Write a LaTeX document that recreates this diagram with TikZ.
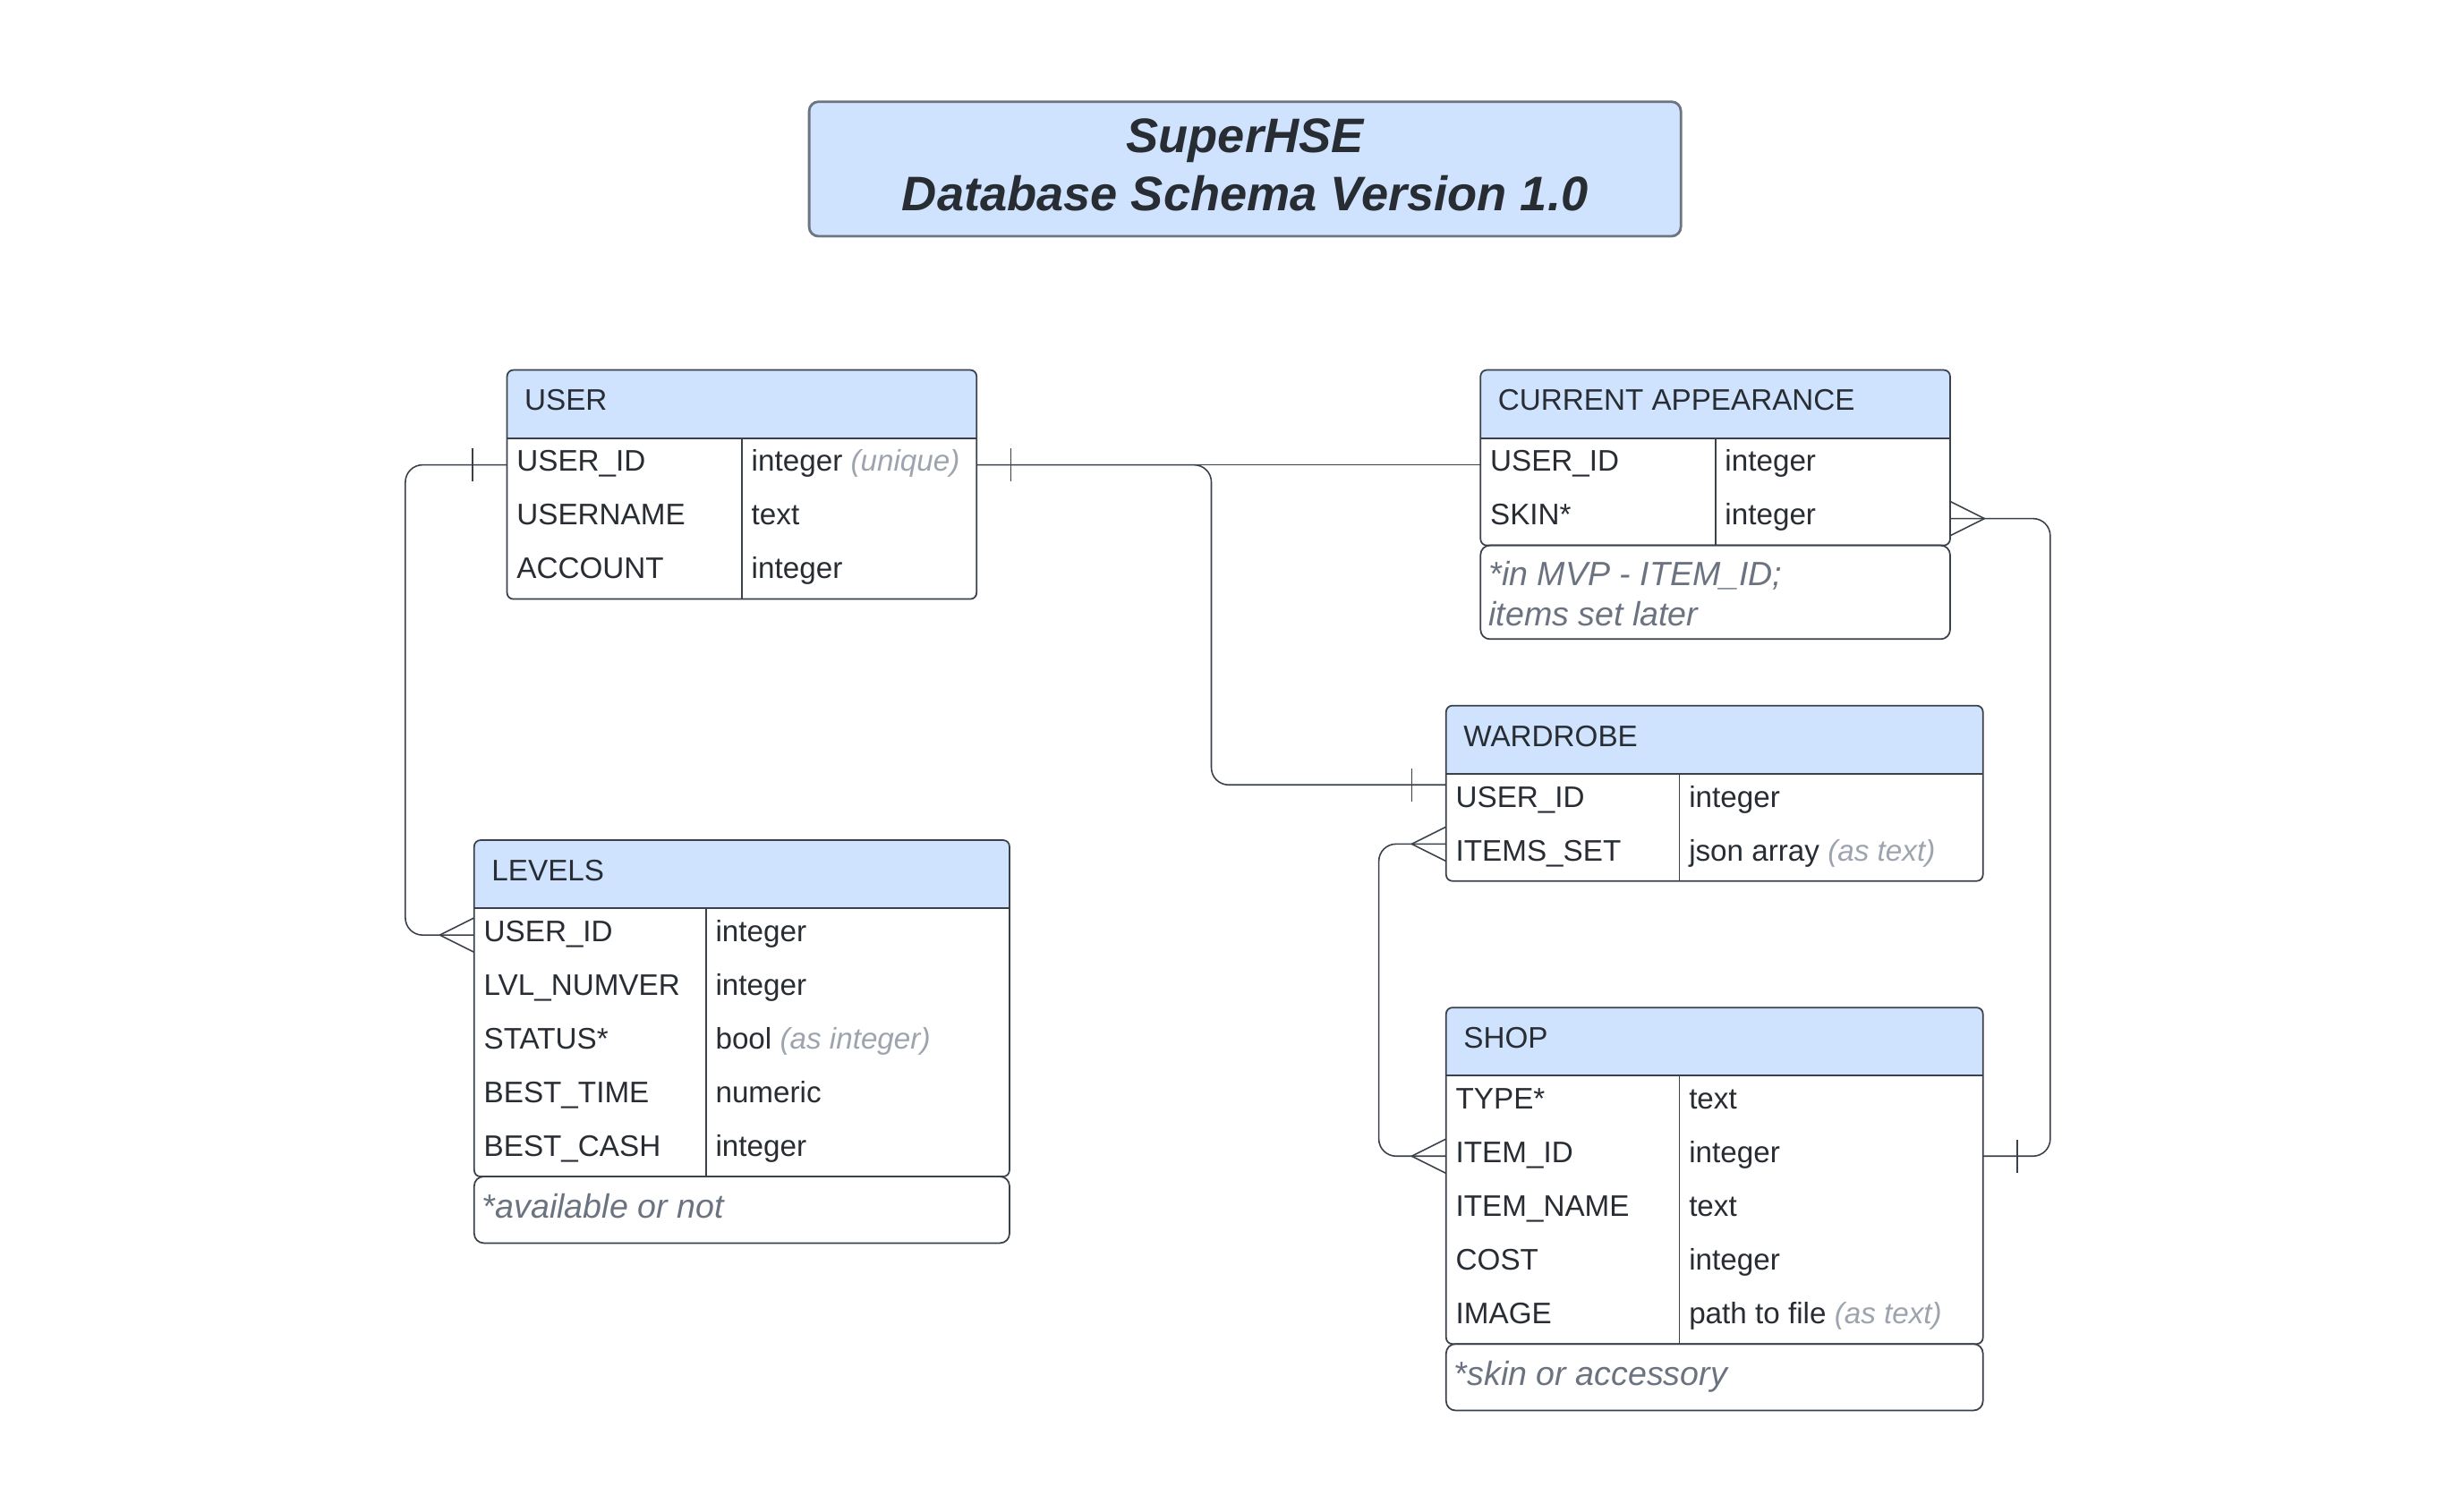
\documentclass[tikz,border=0pt]{standalone}
\usepackage{fontspec}
\setmainfont{Liberation Sans}
\usetikzlibrary{calc}

\definecolor{hdrblue}{HTML}{CFE3FF}
\definecolor{inkdark}{HTML}{282C33}
\definecolor{edgegray}{HTML}{3A414A}
\definecolor{titleedge}{HTML}{6C7480}
\definecolor{hintgray}{HTML}{9DA4AE}
\definecolor{notegray}{HTML}{6B7380}

\newcommand{\rowfont}{\fontsize{19}{26}\selectfont}
\newcommand{\notefont}{\fontsize{21.5}{26}\selectfont}
\newcommand{\hintnote}[1]{{\itshape\color{hintgray}#1}}

\tikzset{
  tableline/.style={draw=edgegray, line width=1pt},
  relline/.style={draw=edgegray, line width=0.9pt, rounded corners=11pt}
}

% table: name, x, y, width, divider, rows
\newcommand{\entityBox}[6]{%
  \begin{scope}[shift={(#2,#3)}]
    \fill[hdrblue, rounded corners=4pt] (0,0) rectangle (#4,43.5);
    \fill[hdrblue] (0,20) rectangle (#4,43.5);
    \node[tableline, rounded corners=4pt, anchor=north west, inner sep=0pt, outer sep=0pt,
          minimum width=#4, minimum height={43.5+#6*34.3}] (#1) at (0,0) {};
    \draw[tableline] (0,43.5) -- (#4,43.5);
    \draw[tableline] (#5,43.5) -- (#5,{43.5+#6*34.3});
  \end{scope}%
}
\newcommand{\crowfoot}[2]{%
  \begin{scope}[shift={(#1)}]
    \draw[relline] (#2*22,0) -- (0,-11);
    \draw[relline] (#2*22,0) -- (0,11);
  \end{scope}%
}
\newcommand{\onebar}[2]{%
  \begin{scope}[shift={(#1)}]
    \draw[relline] (#2*22,-10.5) -- (#2*22,10.5);
  \end{scope}%
}

\begin{document}
\begin{tikzpicture}[x=1pt,y=-1pt]

  % --- styles ---
  \tikzset{
    headtext/.style={anchor=west, inner sep=0pt, text height=14pt, text depth=5.6pt,
                     font=\rowfont, text=inkdark},
    fieldtext/.style={headtext},
    notetext/.style={anchor=base west, inner sep=0pt, font=\notefont\itshape, text=notegray},
    notebox/.style={draw=edgegray, line width=1pt, rounded corners=6pt, anchor=north west,
                    inner sep=0pt, outer sep=0pt},
    titlebox/.style={draw=titleedge, line width=1.6pt, fill=hdrblue, rounded corners=6pt,
                     minimum width=557, minimum height=86, inner sep=0pt},
    titletext/.style={inner sep=0pt, align=center,
                      font=\fontsize{31}{37}\selectfont\bfseries\itshape, text=inkdark},
  }

  \useasboundingbox (0,0) rectangle (1568,966);

  % =========================
  %  TITLE
  % =========================

  \node[titlebox] (title) at (795.5,108) {};
  \node[titletext] (titleText) at ($(title.center)+(0,-2.4)$) {SuperHSE\\Database Schema Version 1.0};

  % =========================
  %  TABLES
  % =========================

    \entityBox{user}{324}{236.5}{300}{150}{3}
    \entityBox{curapp}{946}{236.5}{300}{150}{2}
    \entityBox{wardrobe}{924}{451}{343}{149}{2}
    \entityBox{levels}{303}{537}{342}{148}{5}
    \entityBox{shop}{924}{644}{343}{149}{5}

    \node[notebox, minimum width=300, minimum height=59.9] (curappNote) at (946,348.6) {};
    \node[notebox, minimum width=342, minimum height=42.5] (levelsNote) at (303,752) {};
    \node[notebox, minimum width=343, minimum height=42.5] (shopNote) at (924,859) {};

\begin{scope}[shift={(user.north west)}]
  \node[headtext]  (userHead)     at (11,21.75)  {USER};
  \node[fieldtext] (userID)       at (6,60.65)   {USER\_ID};
  \node[fieldtext] (userIDType)   at (156,60.65) {integer \hintnote{(unique)}};
  \node[fieldtext] (userName)     at (6,94.95)   {USERNAME};
  \node[fieldtext] (userNameType) at (156,94.95) {text};
  \node[fieldtext] (userAcct)     at (6,129.25)  {ACCOUNT};
  \node[fieldtext] (userAcctType) at (156,129.25) {integer};
\end{scope}

\begin{scope}[shift={(curapp.north west)}]
  \node[headtext]  (curappHead)     at (11,21.75)  {CURRENT APPEARANCE};
  \node[fieldtext] (curappID)       at (6,60.65)   {USER\_ID};
  \node[fieldtext] (curappIDType)   at (156,60.65) {integer};
  \node[fieldtext] (curappSkin)     at (6,94.95)   {SKIN*};
  \node[fieldtext] (curappSkinType) at (156,94.95) {integer};
\end{scope}
  \node[notetext, anchor=north west, align=left]
    (curappNoteText) at (951,358.4) {*in MVP - ITEM\_ID;\\items set later};

\begin{scope}[shift={(wardrobe.north west)}]
  \node[headtext]  (wardHead)      at (11,21.75)  {WARDROBE};
  \node[fieldtext] (wardID)        at (6,60.65)   {USER\_ID};
  \node[fieldtext] (wardIDType)    at (155,60.65) {integer};
  \node[fieldtext] (wardItems)     at (6,94.95)   {ITEMS\_SET};
  \node[fieldtext] (wardItemsType) at (155,94.95) {json array \hintnote{(as text)}};
\end{scope}

\begin{scope}[shift={(levels.north west)}]
  \node[headtext]  (levelsHead)     at (11,21.75)   {LEVELS};
  \node[fieldtext] (levelsID)       at (6,60.65)    {USER\_ID};
  \node[fieldtext] (levelsIDType)   at (154,60.65)  {integer};
  \node[fieldtext] (levelsNum)      at (6,94.95)    {LVL\_NUMVER};
  \node[fieldtext] (levelsNumType)  at (154,94.95)  {integer};
  \node[fieldtext] (levelsStat)     at (6,129.25)   {STATUS*};
  \node[fieldtext] (levelsStatType) at (154,129.25) {bool \hintnote{(as integer)}};
  \node[fieldtext] (levelsTime)     at (6,163.55)   {BEST\_TIME};
  \node[fieldtext] (levelsTimeType) at (154,163.55) {numeric};
  \node[fieldtext] (levelsCash)     at (6,197.85)   {BEST\_CASH};
  \node[fieldtext] (levelsCashType) at (154,197.85) {integer};
\end{scope}
  \node[notetext] (levelsNoteText) at (308,778.6) {*available or not};

\begin{scope}[shift={(shop.north west)}]
  \node[headtext]  (shopHead)      at (11,21.75)   {SHOP};
  \node[fieldtext] (shopType)      at (6,60.65)    {TYPE*};
  \node[fieldtext] (shopTypeType)  at (155,60.65)  {text};
  \node[fieldtext] (shopItem)      at (6,94.95)    {ITEM\_ID};
  \node[fieldtext] (shopItemType)  at (155,94.95)  {integer};
  \node[fieldtext] (shopName)      at (6,129.25)   {ITEM\_NAME};
  \node[fieldtext] (shopNameType)  at (155,129.25) {text};
  \node[fieldtext] (shopCost)      at (6,163.55)   {COST};
  \node[fieldtext] (shopCostType)  at (155,163.55) {integer};
  \node[fieldtext] (shopImage)     at (6,197.85)   {IMAGE};
  \node[fieldtext] (shopImageType) at (155,197.85) {path to file \hintnote{(as text)}};
\end{scope}
  \node[notetext] (shopNoteText) at (929,885.6) {*skin or accessory};

  % =========================
  %  RELATIONS
  % =========================

  \coordinate (busL) at (259,0);
  \coordinate (busM) at (774,0);
  \coordinate (busW) at (881,0);
  \coordinate (busR) at (1310,0);
  \coordinate (wardIn)  at ($(wardrobe.west |- wardID)+(0,-10)$);
  \coordinate (wardOut) at ($(wardrobe.west |- wardItems)+(0,-6.5)$);

  \draw[relline] (user.west |- userID) -| (busL |- levelsID) -- (levels.west |- levelsID);
  \draw[relline] (user.east |- userID) -| (busM |- wardIn) -- (wardIn);
  \draw[relline, line width=0.7pt] (user.east |- userID) -- (curapp.west |- curappID);
  \draw[relline] (wardOut) -| (busW |- shopItem) -- (shop.west |- shopItem);
  \draw[relline] (curapp.east |- curappSkin) -| (busR |- shopItem) -- (shop.east |- shopItem);

    \onebar{user.west |- userID}{-1}
    \crowfoot{levels.west |- levelsID}{-1}
    \onebar{user.east |- userID}{1}
    \onebar{wardIn}{-1}
    \crowfoot{wardOut}{-1}
    \crowfoot{shop.west |- shopItem}{-1}
    \crowfoot{curapp.east |- curappSkin}{1}
    \onebar{shop.east |- shopItem}{1}

\end{tikzpicture}
\end{document}
